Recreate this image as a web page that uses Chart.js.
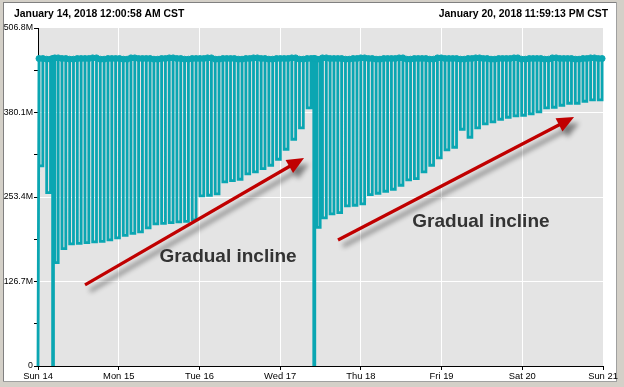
<!DOCTYPE html>
<html>
<head>
<meta charset="utf-8">
<script src="https://cdn.jsdelivr.net/npm/chart.js@4.4.1/dist/chart.umd.min.js"></script>
<style>
html,body{margin:0;padding:0;background:#fff;overflow:hidden;}
canvas{display:block;}
</style>
</head>
<body>
<canvas id="c" width="624" height="387"></canvas>
<script>
// ---------- data (hours since Jan 14 2018 00:00, values in millions) ----------
const dayLabels = ['Sun 14','Mon 15','Tue 16','Wed 17','Thu 18','Fri 19','Sat 20','Sun 21'];
const yTickValues = [0, 63.35, 126.7, 190.05, 253.4, 316.75, 380.1, 443.45, 506.8];
const yTickLabels = ['0','126.7M','253.4M','380.1M','506.8M'];
const headerLeft = 'January 14, 2018 12:00:58 AM CST';
const headerRight = 'January 20, 2018 11:59:13 PM CST';

const firstSample = [0, 0]; // hour, value

const dropHours = [0.30, 2.58, 4.35, 5.00, 7.13, 9.41, 11.69, 13.97, 16.25, 18.52,
  20.80, 23.08, 25.36, 27.64, 29.91, 32.19, 34.47, 36.75, 39.03, 41.30,
  43.58, 45.86, 48.14, 50.42, 52.69, 54.97, 57.25, 59.53, 61.81, 64.08,
  66.36, 68.64, 70.92, 73.20, 75.47, 77.75, 80.03, 82.00, 82.95, 84.59,
  86.86, 89.14, 91.42, 93.70, 95.98, 98.25, 100.53, 102.81, 105.09, 107.37,
  109.64, 111.92, 114.20, 116.48, 118.76, 121.03, 123.31, 125.59, 127.87, 130.15,
  132.42, 134.70, 136.98, 139.26, 141.54, 143.81, 146.09, 148.37, 150.65, 152.93,
  155.20, 157.48, 159.76, 162.04, 164.32, 166.59];

const riseHours = [1.44, 3.72, 4.60, 6.00, 8.27, 10.55, 12.83, 15.11, 17.39, 19.66,
  21.94, 24.22, 26.50, 28.78, 31.05, 33.33, 35.61, 37.89, 40.17, 42.44,
  44.72, 47.00, 49.28, 51.56, 53.83, 56.11, 58.39, 60.67, 62.95, 65.22,
  67.50, 69.78, 72.06, 74.34, 76.61, 78.89, 81.17, 82.30, 83.90, 85.73,
  88.00, 90.28, 92.56, 94.84, 97.12, 99.39, 101.67, 103.95, 106.23, 108.51,
  110.78, 113.06, 115.34, 117.62, 119.90, 122.17, 124.45, 126.73, 129.01, 131.29,
  133.56, 135.84, 138.12, 140.40, 142.68, 144.95, 147.23, 149.51, 151.79, 154.07,
  156.34, 158.62, 160.90, 163.18, 165.46, 167.73];

const lowValues = [300, 260, 0, 155, 176, 183, 184, 185, 186, 187,
  189, 192, 196, 199, 201, 207, 213, 214, 215, 216,
  217, 219, 255, 256, 258, 276, 278, 280, 288, 291,
  296, 301, 310, 325, 340, 357, 387, 0, 208, 222,
  228, 230, 240, 241, 243, 257, 259, 262, 265, 271,
  279, 281, 291, 301, 312, 324, 328, 355, 343, 357,
  363, 366, 370, 373, 375, 376, 378, 381, 387, 388,
  391, 394, 394, 397, 399, 399];

const highValues = [461, 460, 461, 462, 461, 460, 461, 461, 462, 460,
  461, 461, 460, 462, 461, 461, 460, 461, 462, 461,
  460, 461, 461, 462, 460, 461, 461, 460, 461, 462,
  461, 460, 461, 461, 462, 460, 461, 461, 460, 462,
  461, 461, 460, 461, 462, 461, 460, 461, 461, 462,
  460, 461, 461, 460, 462, 461, 461, 460, 461, 462,
  461, 460, 461, 461, 462, 460, 461, 461, 460, 462,
  461, 461, 460, 461, 462, 461];

const annotations = [
  {fromHour: 13.98, fromValue: 121.5, toHour: 79.1, toValue: 311.9, textHour: 56.5, textValue: 163.4, text: 'Gradual incline'},
  {fromHour: 89.2, fromValue: 188.9, toHour: 159.4, toValue: 373.3, textHour: 131.7, textValue: 215.9, text: 'Gradual incline'}
];

// ---------- build the line table ----------
const points = [{x: firstSample[0], y: firstSample[1], top: false}];
for (let i = 0; i < dropHours.length; i++) {
  points.push({x: dropHours[i], y: highValues[i], top: true});
  points.push({x: dropHours[i], y: lowValues[i], top: false});
  points.push({x: riseHours[i], y: lowValues[i], top: false});
  points.push({x: riseHours[i], y: highValues[i], top: true});
}

const TEAL = '#0aa6b2';

const framePlugin = {
  id: 'frame',
  beforeDraw(chart) {
    const ctx = chart.ctx, W = chart.width, H = chart.height, a = chart.chartArea;
    ctx.save();
    ctx.fillStyle = '#ffffff';
    ctx.fillRect(0, 0, W, H);
    ctx.fillStyle = '#d4d0c8';
    ctx.fillRect(0, 0, 3, H);
    ctx.fillRect(0, 0, W, 2);
    ctx.fillRect(617, 0, W - 617, H);
    ctx.fillRect(0, 382, W, H - 382);
    ctx.fillStyle = '#808080';
    ctx.fillRect(3, 2, 1, 380);
    ctx.fillRect(3, 2, 614, 1);
    ctx.fillStyle = '#a0a0a0';
    ctx.fillRect(3, 381, 614, 1);
    ctx.fillRect(616, 2, 1, 380);
    ctx.fillStyle = '#e4e4e4';
    ctx.fillRect(a.left, a.top, a.right - a.left, a.bottom - a.top);
    ctx.fillStyle = '#000';
    ctx.font = 'bold 10.4px "Liberation Sans", Arial, sans-serif';
    ctx.textBaseline = 'middle';
    ctx.textAlign = 'left';
    ctx.fillText(headerLeft, 14, 14);
    ctx.textAlign = 'right';
    ctx.fillText(headerRight, 608, 14);
    ctx.restore();
  }
};

function drawArrow(ctx, x1, y1, x2, y2) {
  const ang = Math.atan2(y2 - y1, x2 - x1);
  const c = Math.cos(ang), s = Math.sin(ang);
  const headLen = 17, headW = 7.5;
  const bx = x2 - headLen * c, by = y2 - headLen * s;
  ctx.save();
  ctx.shadowColor = 'rgba(0,0,0,0.45)';
  ctx.shadowBlur = 5;
  ctx.shadowOffsetX = 5;
  ctx.shadowOffsetY = 6;
  ctx.strokeStyle = '#c00000';
  ctx.fillStyle = '#c00000';
  ctx.lineWidth = 3.2;
  ctx.lineCap = 'butt';
  ctx.beginPath();
  ctx.moveTo(x1, y1);
  ctx.lineTo(bx + 2 * c, by + 2 * s);
  ctx.stroke();
  ctx.beginPath();
  ctx.moveTo(x2, y2);
  ctx.lineTo(bx - headW * s, by + headW * c);
  ctx.lineTo(bx + headW * s, by - headW * c);
  ctx.closePath();
  ctx.fill();
  ctx.restore();
}

const annotationPlugin = {
  id: 'notes',
  afterDatasetsDraw(chart) {
    const ctx = chart.ctx, xs = chart.scales.x, ys = chart.scales.y;
    annotations.forEach(n => {
      drawArrow(ctx, xs.getPixelForValue(n.fromHour), ys.getPixelForValue(n.fromValue),
                     xs.getPixelForValue(n.toHour), ys.getPixelForValue(n.toValue));
      ctx.save();
      ctx.fillStyle = '#333333';
      ctx.font = 'bold 19px "Liberation Sans", Arial, sans-serif';
      ctx.textAlign = 'center';
      ctx.textBaseline = 'middle';
      ctx.fillText(n.text, xs.getPixelForValue(n.textHour), ys.getPixelForValue(n.textValue));
      ctx.restore();
    });
  }
};

new Chart(document.getElementById('c'), {
  type: 'line',
  data: {
    datasets: [{
      data: points,
      borderColor: TEAL,
      borderWidth: 2.8,
      borderJoinStyle: 'miter',
      pointRadius: c => (c.raw && c.raw.top) ? 3 : 0,
      pointHoverRadius: 0,
      pointBackgroundColor: TEAL,
      pointBorderColor: TEAL,
      pointBorderWidth: 1,
      tension: 0,
      fill: false,
      clip: {left: 5, right: 5, top: 5, bottom: 0}
    }]
  },
  options: {
    responsive: false,
    animation: false,
    devicePixelRatio: 1,
    events: [],
    parsing: false,
    layout: {padding: {left: 0, top: 28, right: 21, bottom: 0}},
    plugins: {legend: {display: false}, tooltip: {enabled: false}, title: {display: false}},
    scales: {
      x: {
        type: 'linear',
        min: 0,
        max: 168,
        afterBuildTicks: s => { s.ticks = dayLabels.map((l, i) => ({value: i * 24})); },
        afterFit: s => { s.height = 21; },
        ticks: {
          autoSkip: false,
          maxRotation: 0,
          padding: 1,
          color: '#000',
          font: {family: '"Liberation Sans", Arial, sans-serif', size: 9.4},
          callback: (v, i) => dayLabels[i]
        },
        grid: {
          color: c => (c.index > 0 && c.index < dayLabels.length - 1) ? '#ffffff' : 'rgba(0,0,0,0)',
          tickColor: '#000',
          tickLength: 4,
          lineWidth: 1
        },
        border: {display: true, color: '#000', width: 1}
      },
      y: {
        type: 'linear',
        min: 0,
        max: 506.8,
        afterBuildTicks: s => { s.ticks = yTickValues.map(v => ({value: v})); },
        afterFit: s => { s.width = 38; },
        ticks: {
          padding: 1,
          color: '#000',
          font: {family: '"Liberation Sans", Arial, sans-serif', size: 8.8},
          callback: (v, i) => (i % 2 === 0) ? yTickLabels[i / 2] : ''
        },
        grid: {
          color: c => (c.index % 2 === 0 && c.index > 0 && c.index < yTickValues.length - 1) ? '#ffffff' : 'rgba(0,0,0,0)',
          tickColor: '#000',
          tickLength: 4,
          lineWidth: 1
        },
        border: {display: true, color: '#000', width: 1}
      }
    }
  },
  plugins: [framePlugin, annotationPlugin]
});
</script>
</body>
</html>
